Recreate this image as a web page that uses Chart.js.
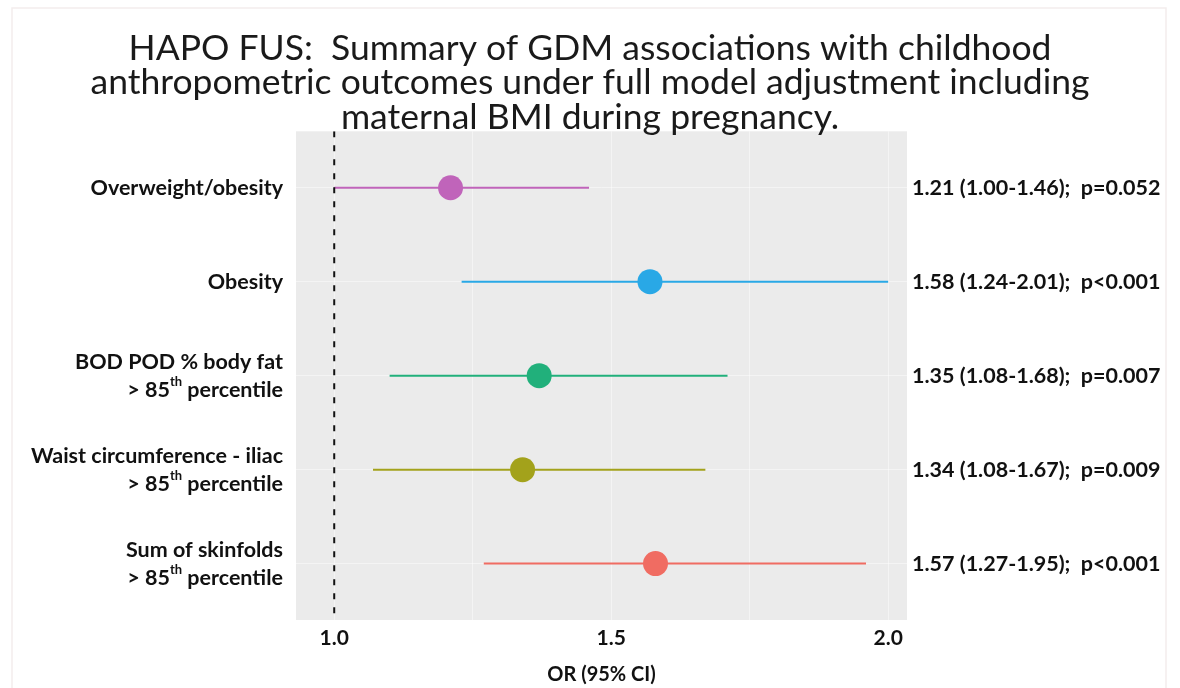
<!DOCTYPE html>
<html>
<head>
<meta charset="utf-8">
<script src="https://cdn.jsdelivr.net/npm/chart.js@4.4.1/dist/chart.umd.min.js"></script>
<style>
  html, body { margin: 0; padding: 0; background: #fff; }
</style>
</head>
<body>
<canvas id="forest" width="1180" height="688"></canvas>
<script>
// --- data ---
const outcomes = ['Overweight/obesity', 'Obesity', 'BOD POD % body fat', 'Waist circumference - iliac', 'Sum of skinfolds'];
const labelLines = [
    ['Overweight/obesity'],
    ['Obesity'],
    ['BOD POD % body fat', '> 85{th} percentile'],
    ['Waist circumference - iliac', '> 85{th} percentile'],
    ['Sum of skinfolds', '> 85{th} percentile']
];
const oddsRatio = [1.21, 1.57, 1.37, 1.34, 1.58];
const ciLow = [1.00, 1.23, 1.10, 1.07, 1.27];
const ciHigh = [1.46, 2.00, 1.71, 1.67, 1.96];
const resultText = [
    '1.21 (1.00-1.46);  p=0.052',
    '1.58 (1.24-2.01);  p<0.001',
    '1.35 (1.08-1.68);  p=0.007',
    '1.34 (1.08-1.67);  p=0.009',
    '1.57 (1.27-1.95);  p<0.001'
];
const colours = ['#C064BA', '#29A8E6', '#21B07B', '#A3A21B', '#F06C62'];
const gridTicks = [1.0, 1.25, 1.5, 1.75, 2.0];
const tickLabels = { '1': '1.0', '1.5': '1.5', '2': '2.0' };
const rowTicks = [1, 2, 3, 4, 5];

const FONT = 'Lato, "Open Sans", sans-serif';
const INK = '#111';

// --- datasets ---
const ciSets = outcomes.map((o, i) => ({
    type: 'line', label: o,
    data: [{ x: ciLow[i], y: i + 1 }, { x: ciHigh[i], y: i + 1 }],
    borderColor: colours[i], borderWidth: 2, pointRadius: 0, order: 2
}));
const refLine = {
    type: 'line', label: 'OR = 1',
    data: [{ x: 1, y: 0.4 }, { x: 1, y: 5.6 }],
    borderColor: '#111', borderWidth: 2, borderDash: [6, 8], pointRadius: 0, order: 1
};
const pointSet = {
    type: 'scatter', label: 'OR',
    data: oddsRatio.map((v, i) => ({ x: v, y: i + 1 })),
    backgroundColor: colours, pointRadius: 12.5, pointHoverRadius: 12.5, borderWidth: 0, order: 0
};

// --- panel background + faint frame ---
const panelBg = {
    id: 'panelBg',
    beforeDraw(chart) {
        const { ctx, chartArea: a } = chart;
        ctx.save();
        ctx.fillStyle = '#fff';
        ctx.fillRect(0, 0, chart.width, chart.height);
        ctx.strokeStyle = '#f3eded';
        ctx.lineWidth = 1.5;
        ctx.strokeRect(12, 8, 1154, 700);
        ctx.fillStyle = '#ebebeb';
        ctx.fillRect(a.left, a.top, a.right - a.left, a.bottom - a.top);
        ctx.restore();
    }
};

// --- row labels (with superscript) and result text ---
function drawRich(ctx, text, right, y) {
    const parts = text.split(/\{(.*?)\}/);
    const main = `bold 21.5px ${FONT}`, sup = `bold 13px ${FONT}`;
    let total = 0;
    parts.forEach((p, k) => { ctx.font = k % 2 ? sup : main; total += ctx.measureText(p).width; });
    let x = right - total;
    ctx.textAlign = 'left';
    parts.forEach((p, k) => {
        ctx.font = k % 2 ? sup : main;
        ctx.fillText(p, x, k % 2 ? y - 8 : y);
        x += ctx.measureText(p).width;
    });
}

const rowText = {
    id: 'rowText',
    afterDraw(chart) {
        const { ctx } = chart;
        const ys = chart.scales.y;
        ctx.save();
        ctx.fillStyle = INK;
        ctx.textBaseline = 'middle';
        labelLines.forEach((lines, i) => {
            const yc = ys.getPixelForValue(i + 1);
            const start = yc - (lines.length - 1) * 14;
            lines.forEach((ln, j) => drawRich(ctx, ln, 283, start + j * 28));
        });
        ctx.font = `bold 21.5px ${FONT}`;
        ctx.textAlign = 'left';
        resultText.forEach((t, i) => ctx.fillText(t, 912, ys.getPixelForValue(i + 1)));
        ctx.restore();
    }
};

new Chart(document.getElementById('forest'), {
    type: 'scatter',
    data: { datasets: [...ciSets, refLine, pointSet] },
    plugins: [panelBg, rowText],
    options: {
        responsive: false,
        animation: false,
        layout: { padding: 0 },
        plugins: {
            legend: { display: false },
            tooltip: { enabled: false },
            title: {
                display: true,
                text: [
                    'HAPO FUS:  Summary of GDM associations with childhood',
                    'anthropometric outcomes under full model adjustment including',
                    'maternal BMI during pregnancy.'
                ],
                color: '#1a1a1a',
                font: { family: FONT, size: 35.5, weight: 'normal', lineHeight: 0.975 },
                padding: { top: 31, bottom: -3.5 }
            }
        },
        scales: {
            x: {
                type: 'linear', min: 0.931, max: 2.034,
                afterBuildTicks: s => { s.ticks = gridTicks.map(v => ({ value: v })); },
                afterFit: s => { s.height = 68; },
                ticks: {
                    autoSkip: false, maxRotation: 0, padding: 6, color: INK,
                    font: { family: FONT, size: 21, weight: 'bold', lineHeight: 1.2 },
                    callback: v => tickLabels[String(+v.toFixed(2))] || ''
                },
                grid: { color: 'rgba(255,255,255,0.45)', lineWidth: 1, drawTicks: false },
                border: { display: false },
                title: {
                    display: true, text: 'OR (95% CI)', color: INK,
                    font: { family: FONT, size: 20, weight: 'bold', lineHeight: 1.2 },
                    padding: { top: 0, bottom: 1 }
                }
            },
            y: {
                type: 'linear', reverse: true, min: 0.4, max: 5.6,
                afterBuildTicks: s => { s.ticks = rowTicks.map(v => ({ value: v })); },
                afterFit: s => { s.width = 296; },
                ticks: { display: false },
                grid: { color: 'rgba(255,255,255,0.45)', lineWidth: 1, drawTicks: false },
                border: { display: false }
            },
            yRight: {
                type: 'linear', position: 'right',
                afterFit: s => { s.width = 273; },
                ticks: { display: false },
                grid: { display: false, drawTicks: false },
                border: { display: false }
            }
        }
    }
});
</script>
</body>
</html>
